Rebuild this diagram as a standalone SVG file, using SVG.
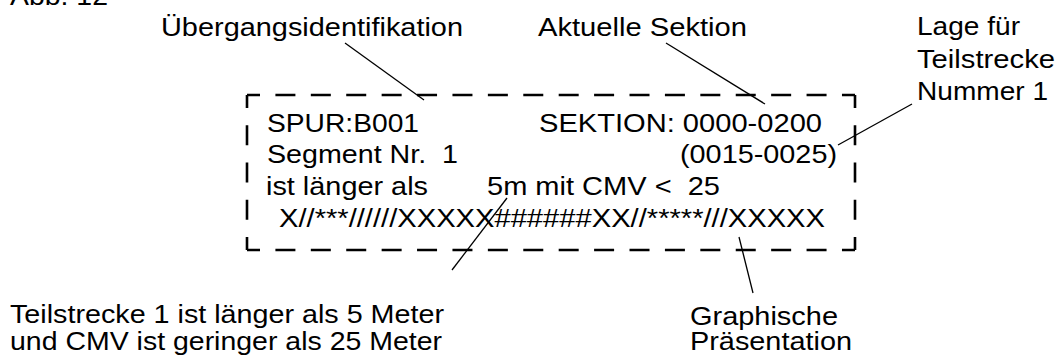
<svg xmlns="http://www.w3.org/2000/svg" width="1058" height="360" viewBox="0 0 1058 360">
  <style>
    text { font-family: "Liberation Sans", Arial, sans-serif; font-size: 26px; fill: #000; white-space: pre; }
    .lead { stroke: #000; stroke-width: 1.3; fill: none; }
    .frameH { stroke: #000; stroke-width: 2.6; fill: none; stroke-dasharray: 20 15.41; stroke-dashoffset: 7; }
    .frameV { stroke: #000; stroke-width: 2.6; fill: none; stroke-dasharray: 20 17.25; stroke-dashoffset: 7; }
  </style>
  <rect width="1058" height="360" fill="#fff"/>

  <g id="caption">
    <text x="10" y="5" textLength="98" lengthAdjust="spacingAndGlyphs">Abb. 12</text>
  </g>

  <!-- dashed display panel with its four text rows -->
  <g id="panel">
    <line class="frameH" x1="247" y1="95" x2="855" y2="95"/>
    <line class="frameH" x1="247" y1="250" x2="855" y2="250"/>
    <line class="frameV" x1="247" y1="95" x2="247" y2="250"/>
    <line class="frameV" x1="855" y1="95" x2="855" y2="250"/>
    <text x="267" y="132" textLength="152" lengthAdjust="spacingAndGlyphs">SPUR:B001</text>
    <text x="539" y="132" textLength="283" lengthAdjust="spacingAndGlyphs">SEKTION: 0000-0200</text>
    <text x="267" y="163" textLength="191" lengthAdjust="spacingAndGlyphs">Segment Nr.  1</text>
    <text x="680" y="163" textLength="157" lengthAdjust="spacingAndGlyphs">(0015-0025)</text>
    <text x="266" y="195" textLength="162" lengthAdjust="spacingAndGlyphs">ist länger als</text>
    <text x="487" y="195" textLength="233" lengthAdjust="spacingAndGlyphs">5m mit CMV &lt;  25</text>
    <text x="279" y="227" textLength="546" lengthAdjust="spacingAndGlyphs">X//***//////XXXXX######XX//*****///XXXXX</text>
  </g>

  <g id="label-uebergang">
    <text x="161" y="36" textLength="302" lengthAdjust="spacingAndGlyphs">Übergangsidentifikation</text>
  </g>
  <g id="label-sektion">
    <text x="538" y="36" textLength="209" lengthAdjust="spacingAndGlyphs">Aktuelle Sektion</text>
  </g>
  <g id="label-lage">
    <text x="917" y="35" textLength="103" lengthAdjust="spacingAndGlyphs">Lage für</text>
    <text x="917" y="68" textLength="138" lengthAdjust="spacingAndGlyphs">Teilstrecke</text>
    <text x="917" y="100" textLength="131" lengthAdjust="spacingAndGlyphs">Nummer 1</text>
  </g>
  <g id="label-teilstrecke">
    <text x="10" y="323" textLength="434" lengthAdjust="spacingAndGlyphs">Teilstrecke 1 ist länger als 5 Meter</text>
    <text x="10" y="350" textLength="432" lengthAdjust="spacingAndGlyphs">und CMV ist geringer als 25 Meter</text>
  </g>
  <g id="label-grafik">
    <text x="690" y="325" textLength="148" lengthAdjust="spacingAndGlyphs">Graphische</text>
    <text x="690" y="350" textLength="162" lengthAdjust="spacingAndGlyphs">Präsentation</text>
  </g>

  <!-- leader lines from labels into the panel -->
  <g id="connectors">
    <line class="lead" x1="345" y1="43" x2="424" y2="100"/>
    <line class="lead" x1="666" y1="43" x2="765" y2="104"/>
    <line class="lead" x1="912" y1="104" x2="838" y2="145"/>
    <line class="lead" x1="507" y1="198" x2="452" y2="270"/>
    <line class="lead" x1="739" y1="237" x2="753" y2="293"/>
  </g>
</svg>
